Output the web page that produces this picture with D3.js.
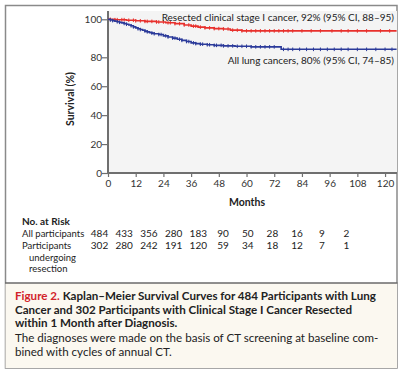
<!DOCTYPE html>
<html><head><meta charset="utf-8">
<script src="https://cdn.jsdelivr.net/npm/d3@7"></script>
<style>
html,body{margin:0;padding:0;background:#fff;}
svg{display:block;font-family:Lato,"Open Sans",sans-serif;}
</style></head>
<body>
<svg id="c" width="402" height="372"></svg>
<script>
// ---- data ----
const yTicks = [0, 20, 40, 60, 80, 100];
const xTicks = [0, 12, 24, 36, 48, 60, 72, 84, 96, 108, 120];
// Kaplan-Meier steps (months, survival %)
const resectedTimes = [0, 3, 8, 12, 16, 21, 25, 29, 33, 36, 39, 42, 46, 50, 53, 58, 125];
const resectedSurv  = [100, 99.8, 99.5, 99.2, 98.9, 98.6, 98.2, 97.7, 97.0, 96.4, 95.9, 95.5, 95.1, 94.9, 94.3, 93.9, 93.9];
const allTimes = [0, 1, 2, 3, 4, 5, 6, 7, 8, 9, 10, 11, 12, 13, 14, 15, 16, 17, 18, 19, 20, 22, 24, 26, 28, 30, 32, 34, 36, 38, 40, 43, 46, 50, 55, 62, 75, 125];
const allSurv  = [100, 99.6, 99.3, 99.0, 98.7, 98.4, 98.1, 97.8, 97.4, 97.0, 96.6, 96.0, 95.5, 95.0, 94.6, 94.2, 93.8, 93.4, 93.0, 92.7, 92.4, 92.0, 91.3, 90.7, 90.1, 89.5, 88.9, 88.3, 87.6, 87.2, 86.9, 86.6, 86.3, 86.0, 85.8, 85.5, 84.2, 84.2];
const resectedCensor = [1,3,4,6,7,9,11,12,14,16,17,19,21,22,24,26,27,29,31,33,35,37,38,40,42,44,46,48,50,52,54,56,58,60,62,64,66,68,70,72,74,76,78,80,84,88,92,97,101,104,108,112,118,122];
const allCensor = [1,2,4,5,7,8,10,11,13,14,16,17,19,20,22,23,25,26,28,29,31,32,34,35,37,38,40,41,43,44,46,47,49,50,52,54,56,58,60,62,64,66,68,70,72,76,78,80,83,86,89,92,95,98,101,104,108,112,116,120,123];
const seriesNames = ["Resected clinical stage I cancer, 92% (95% CI, 88\u201395)", "All lung cancers, 80% (95% CI, 74\u201385)"];
const riskMonths = [0, 12, 24, 36, 48, 60, 72, 84, 96, 108, 120];
const riskAll = [484, 433, 356, 280, 183, 90, 50, 28, 16, 9, 2];
const riskResected = [302, 280, 242, 191, 120, 59, 34, 18, 12, 7, 1];

// ---- drawing ----
const svg = d3.select("#c");
const RED = "#e8302c", BLUE = "#2b3a9a", AX = "#6f6f6f";

// frame and caption box
svg.append("rect").attr("x",5.5).attr("y",5.5).attr("width",391.5).attr("height",362.5)
  .attr("fill","#fff").attr("stroke","#8a8a8a").attr("stroke-width",1.5);
svg.append("rect").attr("x",5.5).attr("y",283).attr("width",391.5).attr("height",85)
  .attr("fill","#fbf8f0");
svg.append("line").attr("x1",5).attr("x2",397.5).attr("y1",283).attr("y2",283)
  .attr("stroke","#6a6a6a").attr("stroke-width",1.5);

const x = d3.scaleLinear().domain([0,125]).range([108,396.6]);
const y = d3.scaleLinear().domain([0,80,100]).range([173,57.3,19.3]);

// plot background
svg.append("rect").attr("x",108).attr("y",11).attr("width",289).attr("height",162).attr("fill","#f4f4f4");

// y axis
const yAxis = svg.append("g").attr("transform","translate(108,0)")
  .call(d3.axisLeft(y).tickValues(yTicks).tickSize(6).tickSizeOuter(0));
yAxis.select(".domain").remove();
yAxis.selectAll(".tick line").attr("stroke",AX).attr("stroke-width",1.2);
yAxis.selectAll(".tick text").attr("x",-6).attr("fill","#333").style("font-size","10px").style("font-family","Lato");
svg.append("line").attr("x1",108).attr("x2",108).attr("y1",11).attr("y2",173.5).attr("stroke",AX).attr("stroke-width",2);

// x axis
const xAxis = svg.append("g").attr("transform","translate(0,173)")
  .call(d3.axisBottom(x).tickValues(xTicks).tickSize(4).tickSizeOuter(0));
xAxis.select(".domain").remove();
xAxis.selectAll(".tick line").attr("stroke",AX).attr("stroke-width",1.2);
xAxis.selectAll(".tick text").attr("y",7).attr("fill","#333").style("font-size","10px").style("font-family","Lato");
svg.append("line").attr("x1",107).attr("x2",397).attr("y1",173).attr("y2",173).attr("stroke",AX).attr("stroke-width",2);

// axis titles
svg.append("text").attr("x",247).attr("y",206).attr("text-anchor","middle")
  .style("font-size","10.5px").style("font-weight","bold").attr("fill","#222").text("Months");
svg.append("text").attr("transform","translate(74,99) rotate(-90)").attr("text-anchor","middle")
  .style("font-size","10.5px").style("font-weight","bold").attr("fill","#222").text("Survival (%)");

// curves
const line = d3.line().x(d=>x(d[0])).y(d=>y(d[1])).curve(d3.curveStepAfter);
function stepAt(times, surv, t){ let v = surv[0]; for(let i=0;i<times.length;i++){ if(times[i]<=t) v = surv[i]; } return v; }
function drawCurve(times, surv, censor, color){
  const pts = times.map((t,i)=>[t,surv[i]]);
  svg.append("path").datum(pts).attr("d",line).attr("fill","none").attr("stroke",color).attr("stroke-width",1.6);
  svg.append("g").selectAll("line").data(censor).join("line")
    .attr("x1",d=>x(d)).attr("x2",d=>x(d))
    .attr("y1",d=>y(stepAt(times,surv,d))-1.8).attr("y2",d=>y(stepAt(times,surv,d))+1.8)
    .attr("stroke",color).attr("stroke-width",1);
}
drawCurve(resectedTimes, resectedSurv, resectedCensor, RED);
drawCurve(allTimes, allSurv, allCensor, BLUE);

// curve labels
svg.append("text").attr("x",394).attr("y",21).attr("text-anchor","end")
  .style("font-size","10px").attr("fill","#222").text(seriesNames[0]);
svg.append("text").attr("x",394).attr("y",64).attr("text-anchor","end")
  .style("font-size","10px").attr("fill","#222").text(seriesNames[1]);

// number at risk
const rx = d3.scaleLinear().domain([0,120]).range([99.5,346.5]);
const lab = svg.append("g").style("font-size","9.5px").attr("fill","#222");
lab.append("text").attr("x",22).attr("y",225).style("font-weight","bold").style("font-size","10px").text("No. at Risk");
lab.append("text").attr("x",22).attr("y",237).text("All participants");
lab.append("text").attr("x",22).attr("y",249).text("Participants");
lab.append("text").attr("x",29).attr("y",260.5).text("undergoing");
lab.append("text").attr("x",29).attr("y",272).text("resection");
svg.append("g").selectAll("text").data(riskAll).join("text")
  .attr("x",(d,i)=>rx(riskMonths[i])).attr("y",237).attr("text-anchor","middle")
  .style("font-size","10px").attr("fill","#222").text(d=>d);
svg.append("g").selectAll("text").data(riskResected).join("text")
  .attr("x",(d,i)=>rx(riskMonths[i])).attr("y",249).attr("text-anchor","middle")
  .style("font-size","10px").attr("fill","#222").text(d=>d);

// caption
const cap = svg.append("g").attr("fill","#222");
const l1 = cap.append("text").attr("x",15).attr("y",299.5).style("font-weight","bold").style("font-size","11.6px");
l1.append("tspan").attr("fill","#d2232a").text("Figure 2.");
l1.append("tspan").text(" Kaplan\u2013Meier Survival Curves for 484 Participants with Lung");
cap.append("text").attr("x",15).attr("y",313.5).style("font-weight","bold").style("font-size","11.6px").text("Cancer and 302 Participants with Clinical Stage I Cancer Resected");
cap.append("text").attr("x",15).attr("y",327).style("font-weight","bold").style("font-size","11.6px").text("within 1 Month after Diagnosis.");
cap.append("text").attr("x",15).attr("y",341.5).style("font-size","11.6px").text("The diagnoses were made on the basis of CT screening at baseline com-");
cap.append("text").attr("x",15).attr("y",355.5).style("font-size","11.6px").text("bined with cycles of annual CT.");
</script>
</body></html>
